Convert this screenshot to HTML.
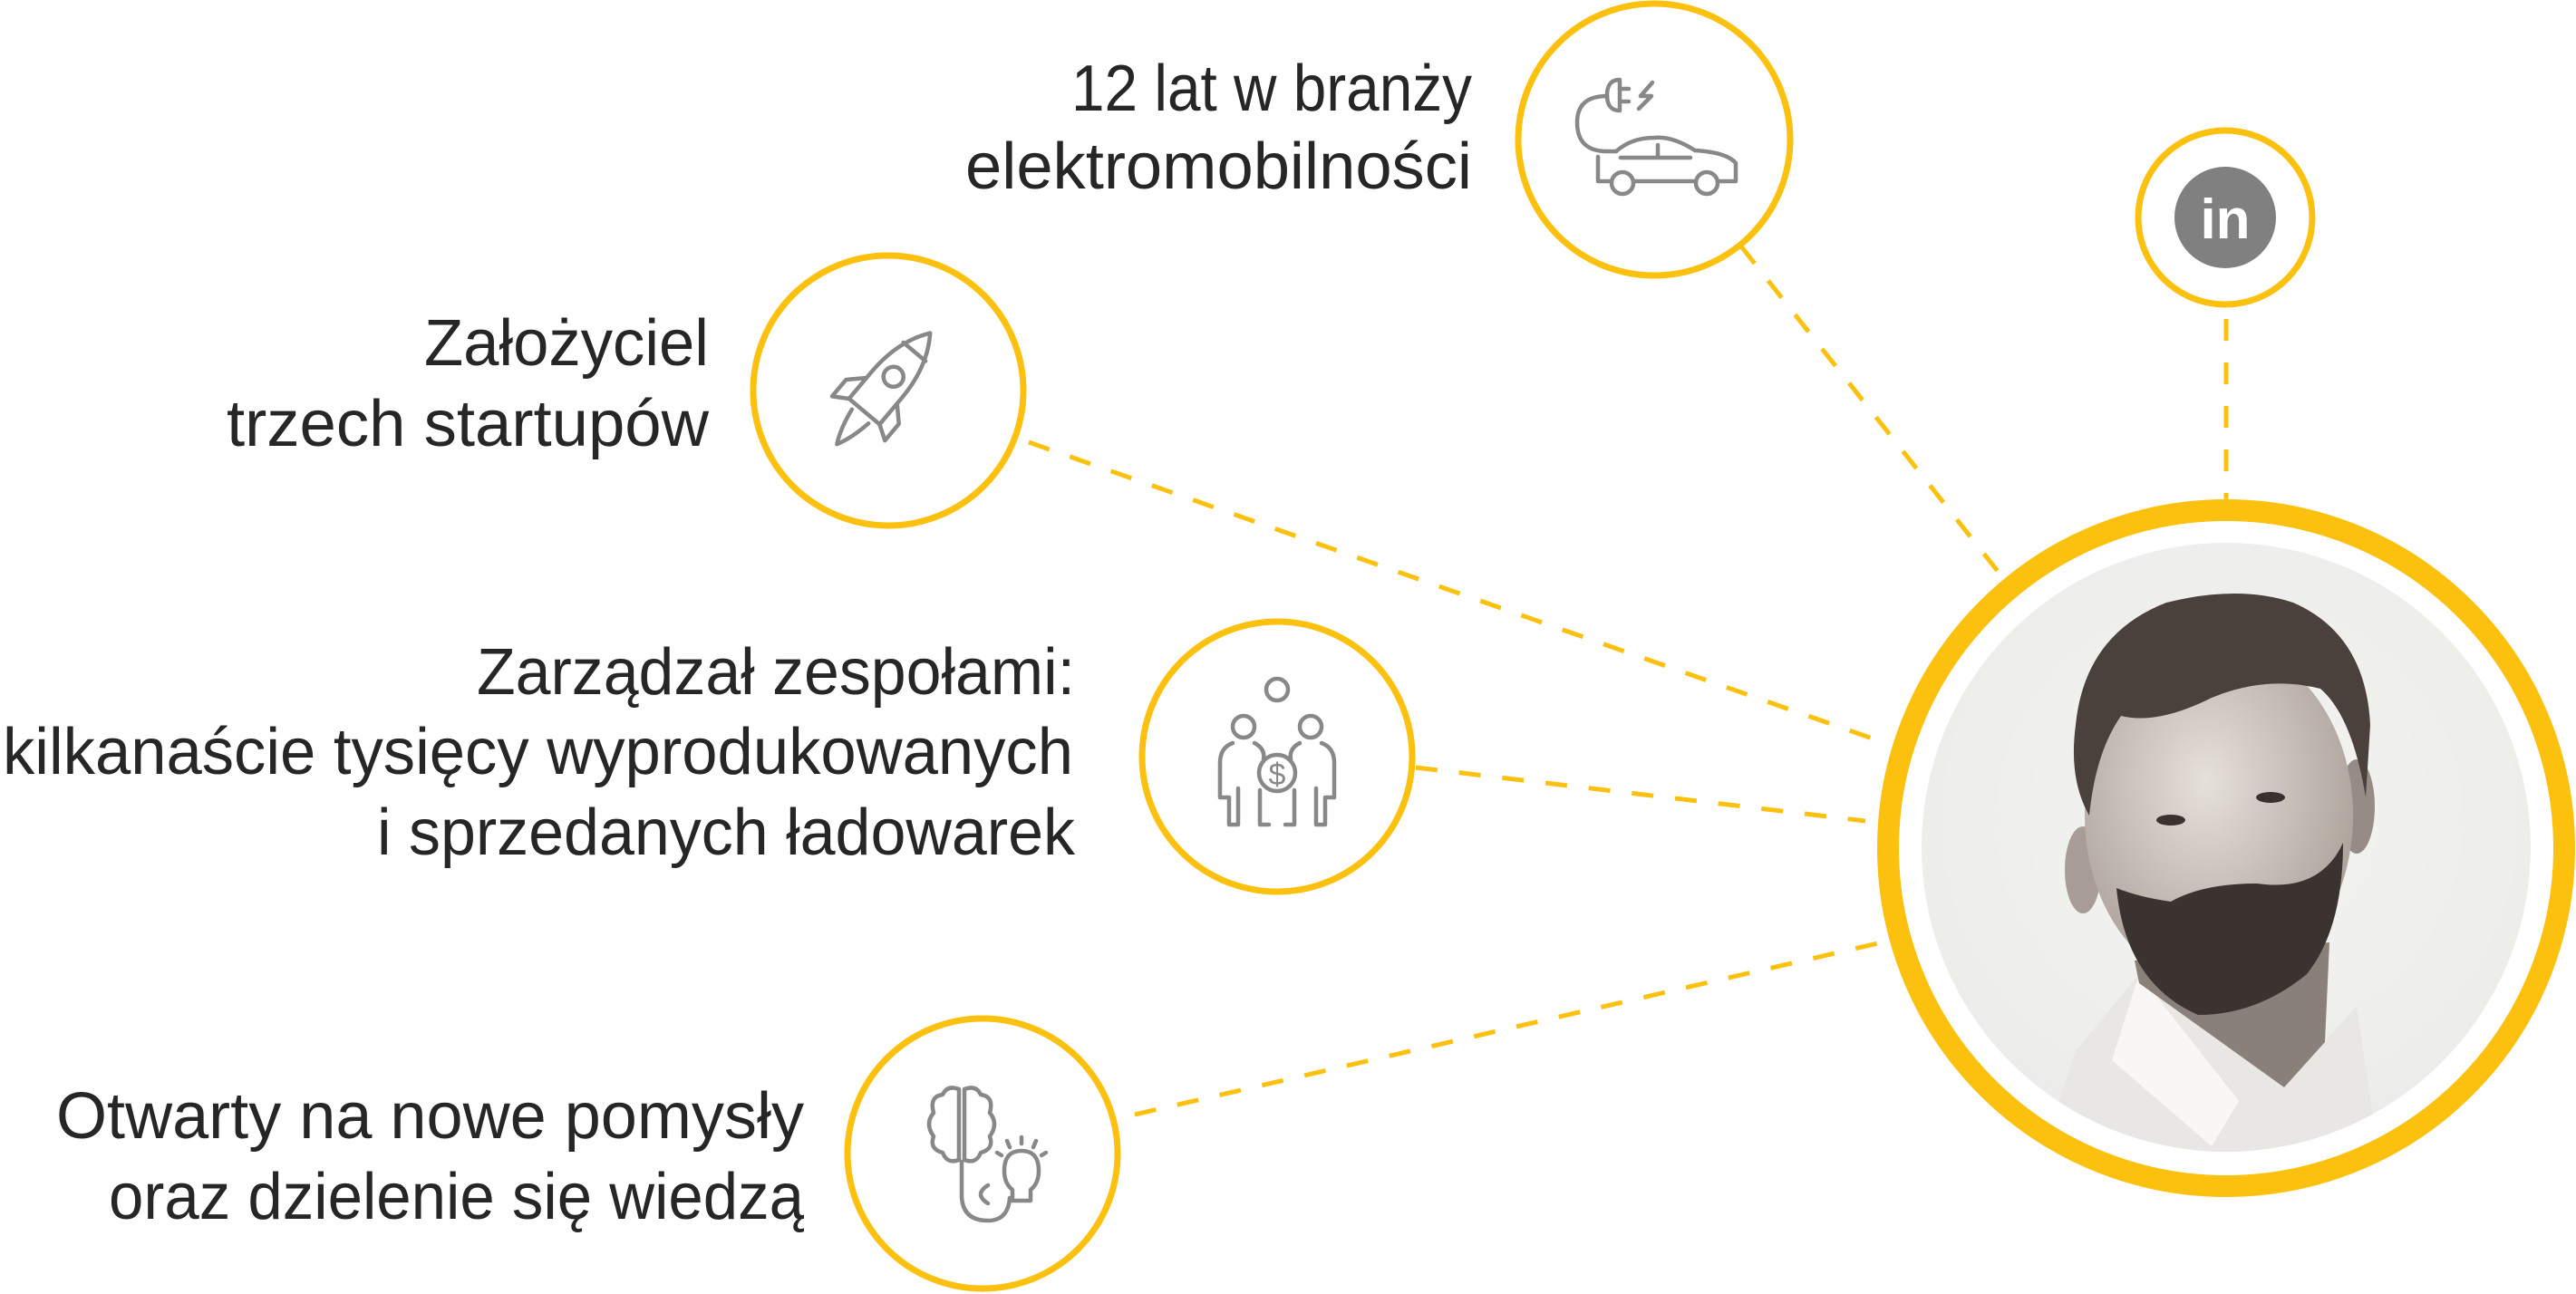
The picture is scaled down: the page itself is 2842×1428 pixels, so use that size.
<!DOCTYPE html>
<html><head><meta charset="utf-8"><style>
html,body{margin:0;padding:0;background:#fff;}
svg{display:block;}
text{font-family:"Liberation Sans","DejaVu Sans",sans-serif;fill:#262624;font-size:72px;}
</style></head><body>
<svg width="2842" height="1428" viewBox="0 0 2842 1428" xmlns="http://www.w3.org/2000/svg">
<defs>
<clipPath id="ph"><circle cx="2456" cy="935" r="336"/></clipPath>
<radialGradient id="bg" cx="0.5" cy="0.45" r="0.6"><stop offset="0" stop-color="#f4f4f2"/><stop offset="1" stop-color="#ebebe8"/></radialGradient>
<radialGradient id="face" cx="0.45" cy="0.4" r="0.7"><stop offset="0" stop-color="#e6e0db"/><stop offset="1" stop-color="#a39890"/></radialGradient>
</defs>

<g stroke="#FCC00E" stroke-width="5" stroke-dasharray="24 24" fill="none">
<line x1="1921" y1="272" x2="2210" y2="638"/>
<line x1="1135" y1="488" x2="2080" y2="820"/>
<line x1="1562" y1="847" x2="2058" y2="906"/>
<line x1="1252" y1="1230" x2="2085" y2="1038"/>
<line x1="2456" y1="352" x2="2456" y2="551"/>
</g>

<g stroke="#FCC00E" stroke-width="7" fill="#fff">
<circle cx="1825" cy="154" r="150"/>
<circle cx="2455" cy="240" r="96"/>
<circle cx="980" cy="431" r="149"/>
<circle cx="1409" cy="835" r="149"/>
<circle cx="1084" cy="1273" r="149"/>
</g>

<circle cx="2455" cy="240" r="56" fill="#808080"/>
<text x="2455" y="263" text-anchor="middle" style="font-size:62px;font-weight:bold;fill:#fff">in</text>

<circle cx="2456" cy="936" r="373" fill="#fff" stroke="#FCC00E" stroke-width="24"/>
<g clip-path="url(#ph)">
<rect x="2100" y="590" width="720" height="700" fill="url(#bg)"/>
<path d="M2250 1280 L2290 1160 L2360 1075 L2440 1140 L2520 1200 L2600 1110 L2625 1280 Z" fill="#e9e7e4"/>
<path d="M2360 1075 L2330 1170 L2440 1265 L2470 1215 Z" fill="#f8f7f5"/>
<path d="M2355 1060 L2360 1085 L2520 1200 L2565 1150 L2570 1040 Z" fill="#8a807a"/>
<ellipse cx="2298" cy="960" rx="20" ry="48" fill="#a89d96"/>
<ellipse cx="2600" cy="890" rx="20" ry="52" fill="#978c85"/>
<ellipse cx="2448" cy="900" rx="148" ry="190" fill="url(#face)"/>
<path d="M2335 980 Q2345 1085 2425 1120 Q2490 1120 2545 1075 Q2585 1025 2585 930 Q2560 985 2490 975 Q2430 975 2395 995 Q2360 990 2335 980 Z" fill="#3b3330"/>
<path d="M2290 800 Q2300 700 2390 665 Q2470 645 2530 665 Q2610 700 2615 800 L2610 880 Q2595 790 2560 760 Q2500 745 2440 770 Q2380 800 2340 790 Q2312 830 2305 900 Q2282 860 2290 800 Z" fill="#4a403c"/>
<ellipse cx="2395" cy="905" rx="16" ry="6" fill="#3a3230"/>
<ellipse cx="2505" cy="880" rx="16" ry="6" fill="#3a3230"/>
</g>

<g stroke="#888" stroke-width="4.5" fill="none" stroke-linecap="round" stroke-linejoin="round">
<path d="M1773 106 Q1740 106 1740 135 Q1740 167 1773 167 L1783 167"/>
<path d="M1787 88 Q1773 88 1773 105 Q1773 122 1787 122 Z"/>
<path d="M1787 98 L1797 98 M1787 112 L1797 112"/>
<path d="M1823 91 L1810 106 L1822 106 L1808 120"/>
<path d="M1763 173 L1763 200 L1778 200 M1802 200 L1871 200 M1895 200 L1915 200 L1915 180 Q1905 168 1870 166 Q1845 150 1825 152 Q1800 152 1783 167"/>
<circle cx="1790" cy="202" r="12"/><circle cx="1883" cy="202" r="12"/>
<path d="M1788 174 L1865 174 M1829 160 L1829 174"/>
<g transform="translate(978 425) rotate(40)">
<path d="M0 -75 Q22 -45 22 0 L22 38 L-22 38 L-22 0 Q-22 -45 0 -75 Z"/>
<path d="M-16 -48 L16 -48"/>
<circle cx="0" cy="-12" r="11"/>
<path d="M-22 8 L-38 24 L-38 48 L-22 38 M22 8 L38 24 L38 48 L22 38"/>
<path d="M-12 45 Q-8 70 0 85 Q8 70 12 45"/>
</g>
<circle cx="1409" cy="761" r="12"/>
<circle cx="1372" cy="802" r="12"/>
<circle cx="1446" cy="802" r="12"/>
<circle cx="1409" cy="853" r="20"/>
<text x="1409" y="866" text-anchor="middle" style="font-size:34px;fill:#888;stroke:none">$</text>
<path d="M1360 820 Q1346 825 1346 842 L1346 880 L1356 880 L1356 910 L1366 910 L1366 870"/>
<path d="M1384 820 Q1396 826 1394 838"/>
<path d="M1458 820 Q1472 825 1472 842 L1472 880 L1462 880 L1462 910 L1452 910 L1452 870"/>
<path d="M1434 820 Q1422 826 1424 838"/>
<path d="M1390 872 L1390 910 L1400 910 M1428 872 L1428 910 L1418 910"/>
<path d="M1058 1202 Q1045 1197 1040 1208 Q1025 1210 1030 1228 Q1020 1240 1030 1254 Q1025 1268 1040 1272 Q1045 1285 1058 1280 Z"/>
<path d="M1064 1202 Q1077 1197 1082 1208 Q1097 1210 1092 1228 Q1102 1240 1092 1254 Q1097 1268 1082 1272 Q1077 1285 1064 1280 Z"/>
<path d="M1061 1282 L1061 1320 Q1062 1347 1090 1347 Q1112 1347 1114 1322"/>
<path d="M1090 1308 Q1074 1318 1090 1328"/>
<path d="M1127 1270 Q1108 1270 1108 1292 Q1108 1306 1117 1313 L1117 1325 L1137 1325 L1137 1313 Q1146 1306 1146 1292 Q1146 1270 1127 1270 Z"/>
<path d="M1127 1255 L1127 1262 M1111 1259 L1114 1266 M1143 1259 L1140 1266 M1100 1272 L1105 1275 M1154 1272 L1149 1275"/>
</g>

<text x="1624" y="122" text-anchor="end" textLength="442" lengthAdjust="spacingAndGlyphs">12 lat w branży</text>
<text x="1624" y="208" text-anchor="end" textLength="559" lengthAdjust="spacingAndGlyphs">elektromobilności</text>
<text x="782" y="403" text-anchor="end" textLength="314" lengthAdjust="spacingAndGlyphs">Założyciel</text>
<text x="782" y="492" text-anchor="end" textLength="532" lengthAdjust="spacingAndGlyphs">trzech startupów</text>
<text x="1186" y="766" text-anchor="end" textLength="660" lengthAdjust="spacingAndGlyphs">Zarządzał zespołami:</text>
<text x="1184" y="854" text-anchor="end" textLength="1181" lengthAdjust="spacingAndGlyphs">kilkanaście tysięcy wyprodukowanych</text>
<text x="1186" y="943" text-anchor="end" textLength="770" lengthAdjust="spacingAndGlyphs">i sprzedanych ładowarek</text>
<text x="887" y="1256" text-anchor="end" textLength="825" lengthAdjust="spacingAndGlyphs">Otwarty na nowe pomysły</text>
<text x="887" y="1345" text-anchor="end" textLength="767" lengthAdjust="spacingAndGlyphs">oraz dzielenie się wiedzą</text>
</svg>
</body></html>
